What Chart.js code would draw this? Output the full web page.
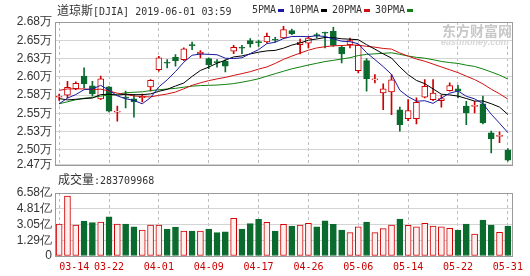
<!DOCTYPE html>
<html>
<head>
<meta charset="utf-8">
<title>道琼斯[DJIA]</title>
<script src="https://cdn.jsdelivr.net/npm/chart.js@4.4.0/dist/chart.umd.min.js"></script>
<style>
  html, body { margin: 0; padding: 0; background: #fff; }
  #wrap { position: relative; width: 530px; height: 276px; overflow: hidden; color: #333; font-family: "DejaVu Sans Mono", monospace; }
  #priceChart { position: absolute; left: 0; top: 0; }
  #volChart { position: absolute; left: 0; top: 180px; }
  .txt { position: absolute; font-size: 10px; line-height: 12px; white-space: nowrap; }
  .cjk { font-family: "Noto Sans CJK SC", sans-serif; font-size: 12px; }
  .dash { position: absolute; width: 6px; height: 3px; top: 9px; }
  .wm { position: absolute; color: #c8c8c8; font-weight: bold; white-space: nowrap; font-family: "Noto Sans CJK SC", sans-serif; }
</style>
</head>
<body>
<div id="wrap">
  <canvas id="priceChart" width="530" height="175"></canvas>
  <canvas id="volChart" width="530" height="96"></canvas>

  <!-- tiêu đề + chú thích MA -->
  <div class="txt" style="left:57px; top:4px;"><span class="cjk">道琼斯</span>[DJIA] 2019-06-01 03:59</div>
  <div class="txt" style="left:252px; top:4px;">5PMA</div>
  <div class="dash" style="left:278px; background:#1a1aa0;"></div>
  <div class="txt" style="left:289px; top:4px;">10PMA</div>
  <div class="dash" style="left:321px; background:#000;"></div>
  <div class="txt" style="left:332px; top:4px;">20PMA</div>
  <div class="dash" style="left:364px; background:#d01010;"></div>
  <div class="txt" style="left:375px; top:4px;">30PMA</div>
  <div class="dash" style="left:407px; background:#108010;"></div>

  <div class="txt" style="left:58px; top:173px;"><span class="cjk">成交量</span>:283709968</div>

  <!-- watermark -->
  <div class="wm" style="left:442px; top:20px; font-size:14px;">东方财富网</div>
  <div class="wm" style="left:441px; top:37px; font-size:9px; font-family:'Liberation Sans',Arial,sans-serif; font-style:italic; color:#d6d6d6;">eastmoney.com</div>
</div>

<script>
// Ngày giao dịch
const dates = [
  '03-14','03-15','03-18','03-19','03-20','03-21','03-22','03-25','03-26','03-27','03-28','03-29',
  '04-01','04-02','04-03','04-04','04-05','04-08','04-09','04-10','04-11','04-12','04-15','04-16',
  '04-17','04-18','04-22','04-23','04-24','04-25','04-26','04-29','04-30',
  '05-01','05-02','05-03','05-06','05-07','05-08','05-09','05-10','05-13','05-14','05-15','05-16',
  '05-17','05-20','05-21','05-22','05-23','05-24','05-28','05-29','05-30','05-31'
];
const axisDates = ['03-14','03-22','04-01','04-09','04-17','04-26','05-06','05-14','05-22','05-31'];

// Giá OHLC
const openP = [25705,25734,25826,25999,25863,25682,25850,25497,25700,25682,25700,25850,
  26091,26188,26263,26230,26435,26309,26244,26198,26208,26347,26397,26495,
  26476,26476,26508,26532,26634,26439,26458,26574,26605,
  26625,26403,26439,26077,26216,25947,25766,25780,25529,25408,25408,25706,
  25673,25659,25798,25822,25581,25577,25613,25209,25159,24968];
const highP = [25750,25929,25919,26114,25929,25999,25855,25581,25790,25742,25750,25951,
  26277,26230,26299,26393,26476,26355,26254,26230,26230,26430,26430,26522,
  26504,26602,26542,26695,26657,26518,26556,26602,26616,
  26681,26430,26532,26439,26244,26021,25891,26021,25567,25673,25696,25951,
  25951,25734,25905,25873,25650,25650,25720,25232,25223,24990];
const lowP = [25660,25696,25812,25836,25720,25673,25501,25372,25557,25428,25640,25790,
  26068,26114,26138,26216,26369,26254,26104,26124,26059,26313,26313,26403,
  26416,26462,26476,26522,26578,26309,26393,26532,26393,
  26416,26184,26393,26045,25790,25905,25533,25464,25232,25380,25334,25696,
  25659,25567,25790,25696,25324,25487,25334,24930,25070,24815];
const closeP = [25710,25845,25901,25896,25752,25961,25511,25505,25692,25641,25720,25943,
  26254,26180,26216,26379,26426,26337,26160,26189,26138,26403,26389,26449,
  26468,26556,26500,26648,26592,26476,26532,26566,26598,
  26430,26309,26495,26430,25965,25955,25822,25947,25324,25519,25636,25859,
  25762,25687,25868,25790,25487,25585,25348,25129,25167,24829];

// Đường trung bình
const ma5 = [25614,25693,25743,25811,25821,25871,25804,25725,25684,25662,25614,25700,
  25850,25948,26063,26194,26291,26308,26304,26298,26250,26245,26256,26314,
  26369,26453,26472,26524,26553,26554,26550,26563,26553,
  26520,26487,26480,26452,26326,26231,26133,26024,25803,25713,25650,25657,
  25620,25693,25762,25793,25719,25683,25616,25468,25343,25212];
const ma10 = [25687,25668,25677,25686,25694,25742,25748,25734,25748,25741,25742,25752,
  25788,25816,25862,25904,25996,26079,26126,26180,26222,26268,26282,26309,
  26334,26352,26359,26390,26433,26462,26501,26518,26539,
  26537,26521,26515,26508,26439,26376,26310,26252,26128,26020,25940,25895,
  25822,25748,25738,25721,25688,25652,25654,25615,25568,25465];
const ma20 = [25801,25821,25822,25822,25812,25818,25792,25762,25744,25724,25714,25710,
  25732,25751,25778,25823,25872,25906,25937,25961,25982,26010,26035,26062,
  26098,26128,26177,26234,26279,26321,26362,26393,26410,
  26423,26427,26433,26433,26415,26404,26386,26377,26323,26279,26238,26208,
  26168,26128,26089,26049,25999,25952,25891,25817,25754,25680];
const ma30 = [25614,25642,25670,25692,25703,25722,25734,25747,25768,25775,25781,25798,
  25810,25820,25829,25846,25860,25868,25871,25876,25884,25896,25915,25937,
  25963,25999,26034,26068,26102,26128,26155,26179,26203,
  26220,26239,26257,26287,26303,26311,26318,26325,26304,26280,26262,26250,
  26229,26205,26189,26177,26153,26135,26100,26058,26015,25960];

// Khối lượng
const volume = [3.11e8,6.25e8,3.00e8,3.45e8,3.26e8,3.34e8,3.93e8,3.11e8,3.11e8,2.81e8,2.44e8,3.00e8,
  3.00e8,2.55e8,2.78e8,2.33e8,2.33e8,2.33e8,2.55e8,2.14e8,2.25e8,3.75e8,2.55e8,3.15e8,
  3.64e8,3.30e8,2.33e8,3.08e8,2.89e8,3.00e8,3.19e8,2.81e8,3.48e8,
  3.08e8,2.44e8,2.14e8,2.81e8,3.34e8,2.14e8,2.59e8,3.00e8,3.67e8,2.97e8,2.81e8,3.19e8,
  2.89e8,2.81e8,2.63e8,2.44e8,3.11e8,1.99e8,3.56e8,3.00e8,2.18e8,2.89e8];

// Trục Y
const priceMin = 24763, priceMax = 26755;
const priceTicks = [26755, 26500, 26245, 25990, 25735, 25480, 25225, 24970, 24763];
const priceTickLabels = ['2.68万','2.65万','2.63万','2.60万','2.58万','2.55万','2.53万','2.50万','2.47万'];
const volMin = -0.47e8, volMax = 6.585e8;
const volTicks = [6.585e8, 4.82125e8, 3.0575e8, 1.29375e8, -0.47e8];
const volTickLabels = ['6.58亿','4.81亿','3.05亿','1.29亿','0'];

const RED = '#d00000';
const GREEN = '#0b6b2f';
const isUp = closeP.map((c, i) => c >= openP[i]);

// Khung viền vùng vẽ
const frame = {
    id: 'frame',
    beforeDatasetsDraw(chart) {
        const a = chart.chartArea;
        const ctx = chart.ctx;
        ctx.save();
        ctx.strokeStyle = '#9a9a9a';
        ctx.lineWidth = 1;
        ctx.strokeRect(Math.round(a.left) + 0.5, Math.round(a.top) + 0.5,
            Math.round(a.right - a.left), Math.round(a.bottom - a.top));
        ctx.restore();
    }
};

const yFont = { family: "'Liberation Sans', Arial, sans-serif", size: 12 };

function xGridColor(ctx) {
    return axisDates.includes(dates[ctx.index]) ? '#bdbdbd' : 'rgba(0,0,0,0)';
}

function maLine(label, data, color) {
    return {
        type: 'line', label: label, data: data,
        borderColor: color, borderWidth: 1, pointRadius: 0, tension: 0, fill: false
    };
}

// Biểu đồ nến
const priceChart = new Chart(document.getElementById('priceChart'), {
    type: 'bar',
    data: {
        labels: dates,
        datasets: [
            maLine('5PMA', ma5, '#1a1aa0'),
            maLine('10PMA', ma10, '#000000'),
            maLine('20PMA', ma20, '#d01010'),
            maLine('30PMA', ma30, '#108010'),
            {
                label: 'body',
                data: openP.map((o, i) => [Math.min(o, closeP[i]), Math.max(o, closeP[i])]),
                backgroundColor: isUp.map(u => u ? '#ffffff' : GREEN),
                borderColor: isUp.map(u => u ? RED : GREEN),
                borderWidth: 1,
                borderSkipped: false,
                barThickness: 6,
                minBarLength: 1,
                grouped: false
            },
            {
                label: 'wick',
                data: lowP.map((l, i) => [l, highP[i]]),
                backgroundColor: isUp.map(u => u ? RED : GREEN),
                borderWidth: 0,
                barThickness: 1,
                grouped: false
            }
        ]
    },
    options: {
        responsive: false,
        animation: false,
        events: [],
        layout: { padding: { top: 22, right: 18, bottom: 10, left: 0 } },
        plugins: { legend: { display: false }, tooltip: { enabled: false } },
        scales: {
            x: {
                offset: true,
                grid: { offset: false, drawTicks: false, color: xGridColor },
                border: { display: false, dash: [3, 3] },
                ticks: { display: false, autoSkip: false },
                afterFit: function(scale) { scale.height = 0; }
            },
            y: {
                min: priceMin,
                max: priceMax,
                afterBuildTicks: function(axis) {
                    axis.ticks = priceTicks.map(v => ({ value: v }));
                },
                grid: { color: '#d4d4d4', drawTicks: false },
                border: { display: false },
                ticks: {
                    autoSkip: false,
                    padding: 3,
                    color: '#333',
                    font: yFont,
                    callback: function(value) {
                        const k = priceTicks.indexOf(value);
                        return k >= 0 ? priceTickLabels[k] : '';
                    }
                },
                afterFit: function(scale) { scale.width = 55; }
            }
        }
    },
    plugins: [frame]
});

// Biểu đồ khối lượng
const volChart = new Chart(document.getElementById('volChart'), {
    type: 'bar',
    data: {
        labels: dates,
        datasets: [{
            label: '成交量',
            data: volume,
            base: volMin,
            backgroundColor: isUp.map(u => u ? '#fff0f0' : GREEN),
            borderColor: isUp.map(u => u ? RED : GREEN),
            borderWidth: 1,
            borderSkipped: false,
            barThickness: 6
        }]
    },
    options: {
        responsive: false,
        animation: false,
        events: [],
        layout: { padding: { top: 13, right: 18, bottom: 0, left: 0 } },
        plugins: { legend: { display: false }, tooltip: { enabled: false } },
        scales: {
            x: {
                offset: true,
                grid: { offset: false, drawTicks: false, color: xGridColor },
                border: { display: false, dash: [3, 3] },
                ticks: {
                    autoSkip: false,
                    maxRotation: 0,
                    minRotation: 0,
                    padding: 5,
                    color: '#cc0000',
                    font: { family: "'DejaVu Sans Mono', monospace", size: 10 },
                    callback: function(value, index) {
                        const d = dates[index];
                        if (!axisDates.includes(d)) return '';
                        // nhãn đầu tiên lệch sang phải như bản gốc
                        return index === 0 ? '     ' + d : d;
                    }
                },
                afterFit: function(scale) { scale.height = 20; }
            },
            y: {
                min: volMin,
                max: volMax,
                afterBuildTicks: function(axis) {
                    axis.ticks = volTicks.map(v => ({ value: v }));
                },
                grid: { color: '#d4d4d4', drawTicks: false },
                border: { display: false },
                ticks: {
                    autoSkip: false,
                    padding: 3,
                    color: '#333',
                    font: yFont,
                    callback: function(value) {
                        const k = volTicks.indexOf(value);
                        return k >= 0 ? volTickLabels[k] : '';
                    }
                },
                afterFit: function(scale) { scale.width = 55; }
            }
        }
    },
    plugins: [frame]
});
</script>
</body>
</html>
